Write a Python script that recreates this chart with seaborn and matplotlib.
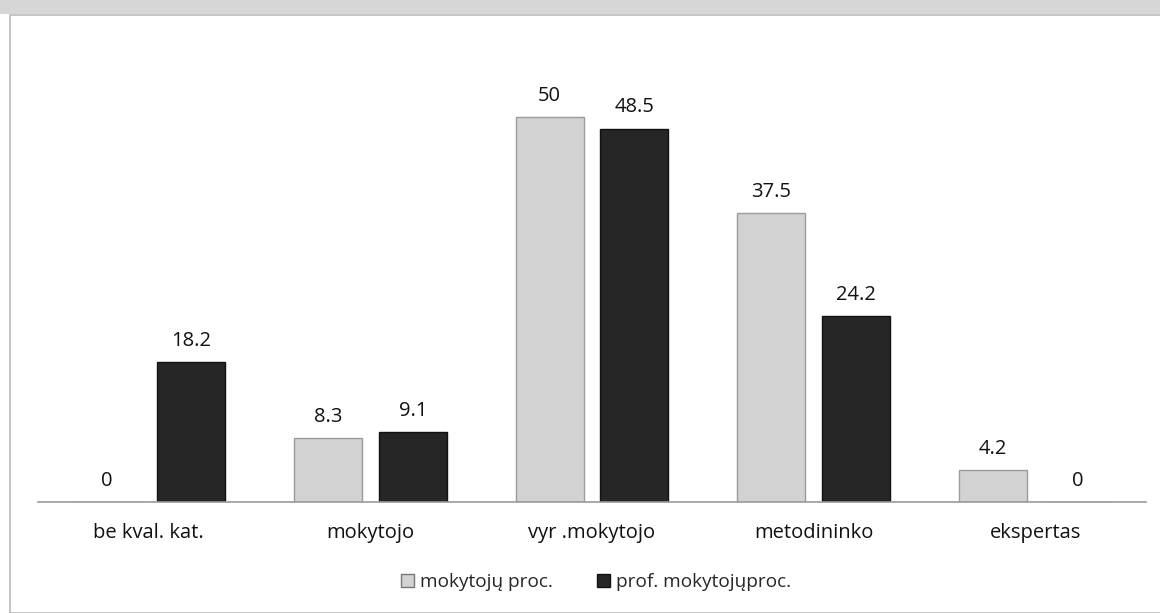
import matplotlib
matplotlib.use("Agg")
import matplotlib.pyplot as plt
import matplotlib.patches as mpatches
import seaborn as sns
import pandas as pd

categories = ["be kval. kat.", "mokytojo", "vyr .mokytojo", "metodininko", "ekspertas"]
series_names = ["mokytojų proc.", "prof. mokytojųproc."]
mokytoju = [0, 8.3, 50, 37.5, 4.2]
prof_mokytoju = [18.2, 9.1, 48.5, 24.2, 0]
value_labels_a = ["0", "8.3", "50", "37.5", "4.2"]
value_labels_b = ["18.2", "9.1", "48.5", "24.2", "0"]

df = pd.DataFrame({
    "cat": categories * 2,
    "series": [series_names[0]] * 5 + [series_names[1]] * 5,
    "val": mokytoju + prof_mokytoju,
})

sns.set_style("white")
plt.rcParams['font.family'] = ['Open Sans', 'DejaVu Sans']

fig = plt.figure(figsize=(11.6, 6.13), dpi=100)
fig.patch.set_facecolor("white")
ax = fig.add_axes([38/1160, 111/613, (1146-38)/1160, 462/613])

palette = {series_names[0]: "#d2d2d2", series_names[1]: "#262626"}
sns.barplot(data=df, x="cat", y="val", hue="series", order=categories,
            hue_order=series_names, palette=palette, width=0.767, gap=0.2,
            ax=ax, legend=False, saturation=1)

for i, c in enumerate(ax.patches[:10]):
    if i < 5:
        c.set_edgecolor("#9a9a9a")
    else:
        c.set_edgecolor("#111111")
    c.set_linewidth(1.0)

for cont, labs in zip(ax.containers, [value_labels_a, value_labels_b]):
    ax.bar_label(cont, labels=labs, padding=8, fontsize=14.5, color="#111111")

ax.set_xlim(-0.5, 4.5)
ax.set_ylim(0, 60)
ax.set_xlabel("")
ax.set_ylabel("")
ax.set_yticks([])
ax.tick_params(axis="x", length=0, pad=15, labelsize=14.5, colors="#111111")
for s in ["top", "right", "left"]:
    ax.spines[s].set_visible(False)
ax.spines["bottom"].set_color("#9a9a9a")
ax.spines["bottom"].set_linewidth(1.2)
ax.set_facecolor("none")

handles = [mpatches.Patch(facecolor=palette[n], edgecolor="#777777" if k == 0 else "#111111", label=n)
           for k, n in enumerate(series_names)]
fig.legend(handles=handles, loc="center", bbox_to_anchor=(596/1160, 1 - 582/613), ncol=2,
           frameon=False, fontsize=13.7, handlelength=0.7, handleheight=0.7,
           handletextpad=0.3, columnspacing=2.3)

# outer frame and scanned top band
fig.add_artist(mpatches.Rectangle((10/1160, 0), 1.0, 1 - 15/613, transform=fig.transFigure,
                                  fill=False, edgecolor="#bbbbbb", linewidth=1.2))
fig.add_artist(mpatches.Rectangle((0, 1 - 14/613), 1.0, 14/613, transform=fig.transFigure,
                                  facecolor="#d6d6d6", edgecolor="none"))

fig.savefig("out.png", dpi=100)
